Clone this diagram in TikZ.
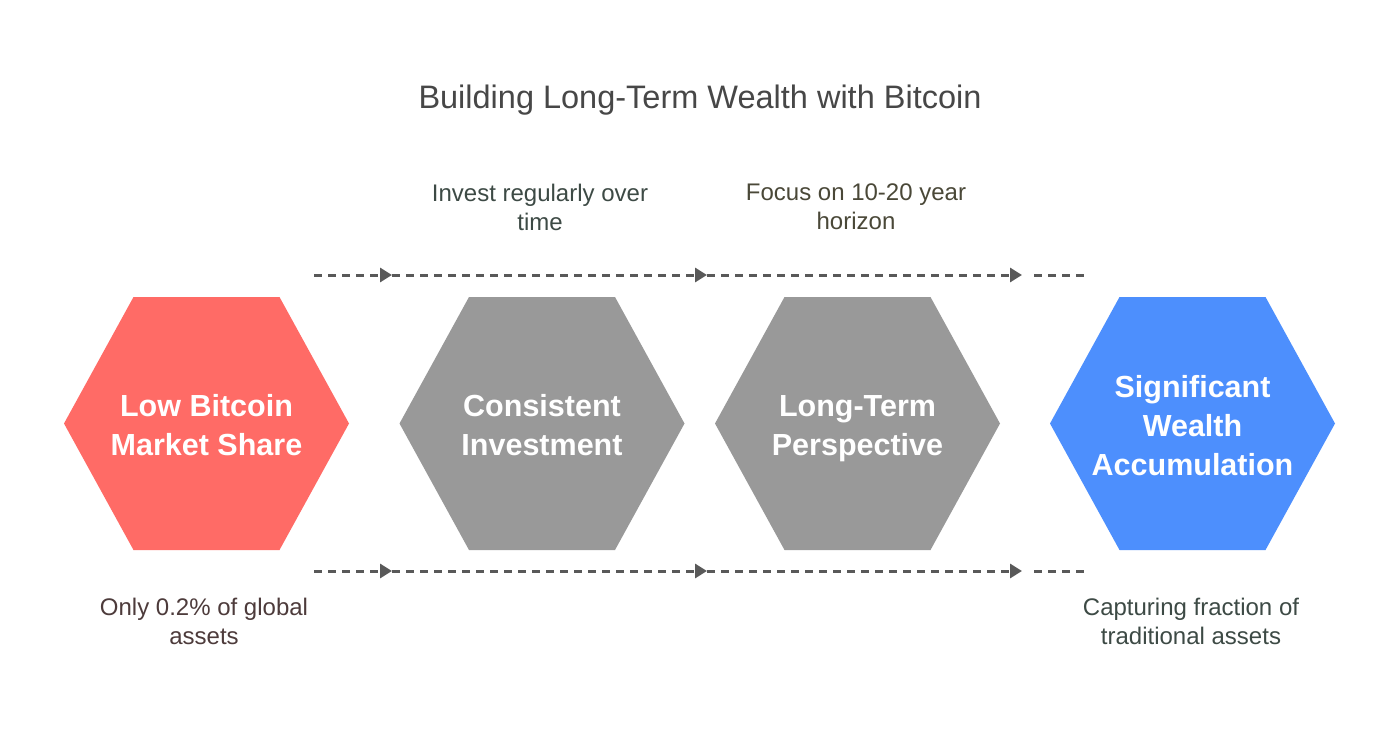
\documentclass[tikz,border=0pt]{standalone}
\usepackage{fontspec}
\setmainfont{Liberation Sans}
\usetikzlibrary{arrows.meta,calc}
\definecolor{hexred}{HTML}{FF6B66}
\definecolor{hexgrey}{HTML}{999999}
\definecolor{hexblue}{HTML}{4D8FFD}
\definecolor{titlecol}{HTML}{474747}
\definecolor{greencol}{HTML}{3D4A45}
\definecolor{olivecol}{HTML}{4A4838}
\definecolor{browncol}{HTML}{4D3B3B}
\definecolor{linecol}{HTML}{595959}
\tikzset{
  hexlabel/.style={font=\fontsize{30.5}{39}\selectfont\bfseries, text=white, align=center},
  note/.style={font=\fontsize{24}{29}\selectfont, align=center},
  flow/.style={draw=linecol, line width=3pt, dash pattern=on 8pt off 6pt, -{Triangle[length=12pt,width=14pt]}},
  flowplain/.style={draw=linecol, line width=3pt, dash pattern=on 8pt off 6pt},
}
\newcommand{\hexagon}[2]{%
  \fill[#2] ($(#1)+(-142.5,0)$) -- ($(#1)+(-73,-126.5)$) -- ($(#1)+(73,-126.5)$) -- ($(#1)+(142.5,0)$) -- ($(#1)+(73,126.5)$) -- ($(#1)+(-73,126.5)$) -- cycle;}
\begin{document}
\begin{tikzpicture}[x=1pt,y=-1pt]
\useasboundingbox (0,0) rectangle (1400,749);
\fill[white] (0,0) rectangle (1400,749);
\coordinate (c1) at (206.5,423.5);
\coordinate (c2) at (542,423.5);
\coordinate (c3) at (857.5,423.5);
\coordinate (c4) at (1192.5,423.5);
\hexagon{c1}{hexred}
\hexagon{c2}{hexgrey}
\hexagon{c3}{hexgrey}
\hexagon{c4}{hexblue}
\node[hexlabel] (h1) at ($(c1)+(0,2)$) {Low Bitcoin\\Market Share};
\node[hexlabel] (h2) at ($(c2)+(0,2)$) {Consistent\\Investment};
\node[hexlabel] (h3) at ($(c3)+(0,5)$) {Long-Term\\Perspective};
\node[hexlabel] (h4) at ($(c4)+(0,2)$) {Significant\\Wealth\\Accumulation};
\node[font=\fontsize{32.5}{38}\selectfont, text=titlecol] (title) at (700,100) {Building Long-Term Wealth with Bitcoin};
\node[note, text=greencol] (n2) at (540,207) {Invest regularly over\\time};
\node[note, text=olivecol] (n3) at (856,207) {Focus on 10-20 year\\horizon};
\node[note, text=browncol] (n1) at (204,621) {Only 0.2\% of global\\assets};
\node[note, text=greencol] (n4) at (1191,621) {Capturing fraction of\\traditional assets};
% top flow
\coordinate (ta) at (314,275);
\coordinate (tb) at (392,275);
\coordinate (tc) at (707,275);
\coordinate (td) at (1022,275);
\coordinate (te) at (1086,275);
\draw[flow] (ta) -- (tb);
\draw[flow] (tb) -- (tc);
\draw[flow] (tc) -- (td);
\draw[flowplain] ($(td)+(12,0)$) -- (te);
% bottom flow
\coordinate (ba) at (314,571);
\coordinate (bb) at (392,571);
\coordinate (bc) at (707,571);
\coordinate (bd) at (1022,571);
\coordinate (be) at (1086,571);
\draw[flow] (ba) -- (bb);
\draw[flow] (bb) -- (bc);
\draw[flow] (bc) -- (bd);
\draw[flowplain] ($(bd)+(12,0)$) -- (be);
\end{tikzpicture}
\end{document}
